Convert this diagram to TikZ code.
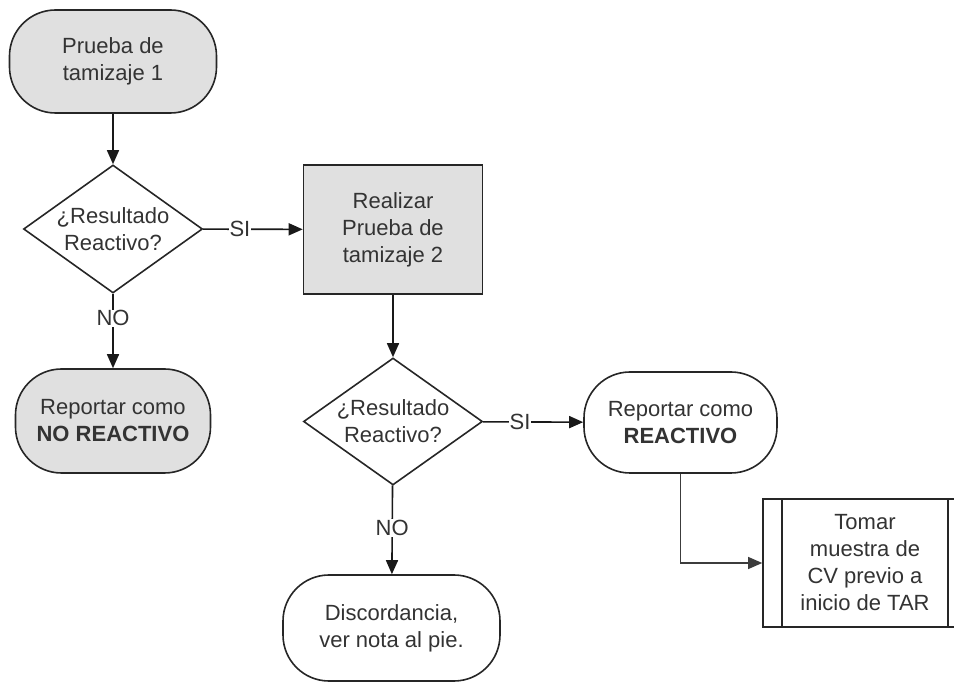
\documentclass[tikz,border=0pt]{standalone}
\usepackage{fontspec}
\setmainfont{Liberation Sans}
\usetikzlibrary{shapes.geometric,arrows.meta}
\definecolor{fillg}{RGB}{224,224,224}
\definecolor{lineg}{RGB}{60,60,60}
\begin{document}
\begin{tikzpicture}[x=1pt,y=-1pt,
  every node/.style={font=\fontsize{22}{27}\selectfont, text=black!80},
  box/.style={draw=black!85, line width=1.6pt, align=center, inner sep=0pt},
  stadium/.style={box, rectangle, rounded corners=46pt},
  decision/.style={draw=black!85, line width=1.6pt, diamond, inner sep=0pt},
  arr/.style={draw=black!90, line width=1.6pt, -{Triangle[length=14pt,width=12pt]}},
  thinarr/.style={draw=lineg, line width=1.1pt, -{Triangle[length=14pt,width=12pt]}},
  lbl/.style={fill=white, inner sep=1pt}
]
\useasboundingbox (0,0) rectangle (954,684);

\node[stadium, fill=fillg, minimum width=207pt, minimum height=103pt] (n1) at (113,61.5) {Prueba de\\tamizaje 1};
\node[decision, minimum width=179pt, minimum height=128pt,
      label={[align=center, font=\fontsize{22}{27}\selectfont, text=black!80]center:¿Resultado\\Reactivo?}] (d1) at (113,229) {};
\node[box, rectangle, fill=fillg, minimum width=179pt, minimum height=129pt] (b3) at (393,229.5) {Realizar\\Prueba de\\tamizaje 2};
\node[stadium, fill=fillg, minimum width=195pt, minimum height=104pt] (n4) at (113,421) {Reportar como\\\textbf{NO REACTIVO}};
\node[decision, minimum width=179pt, minimum height=127pt,
      label={[align=center, font=\fontsize{22}{27}\selectfont, text=black!80]center:¿Resultado\\Reactivo?}] (d2) at (393,421.5) {};
\node[stadium, fill=white, minimum width=193pt, minimum height=101pt] (n6) at (680.5,422.5) {Reportar como\\\textbf{REACTIVO}};
\node[stadium, fill=white, minimum width=217pt, minimum height=106pt] (n7) at (391.5,628) {Discordancia,\\ver nota al pie.};
\node[box, rectangle, fill=white, minimum width=204pt, minimum height=128pt] (b8) at (865,563) {Tomar\\muestra de\\CV previo a\\inicio de TAR};
\draw[draw=black!85, line width=1.6pt] ([xshift=20pt]b8.north west) -- ([xshift=20pt]b8.south west);
\draw[draw=black!85, line width=1.6pt] ([xshift=-20pt]b8.north east) -- ([xshift=-20pt]b8.south east);

\draw[arr] (n1) -- (d1);
\draw[arr] (d1) -- node[lbl, pos=0.37] {SI} (b3);
\draw[arr] (d1) -- node[lbl, pos=0.33] {NO} (n4);
\draw[arr] (b3) -- (d2);
\draw[arr] (d2) -- node[lbl, pos=0.37] {SI} (n6);
\draw[arr] (d2) -- node[lbl, pos=0.48] {NO} (n7);
\draw[thinarr] (n6.south) |- (b8.west);
\end{tikzpicture}
\end{document}
